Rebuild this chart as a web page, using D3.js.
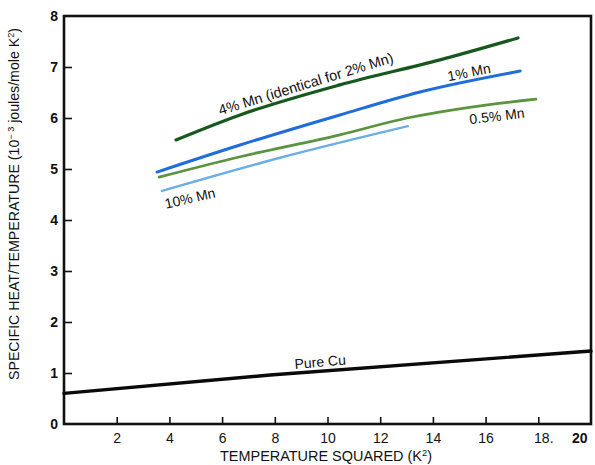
<!DOCTYPE html>
<html>
<head>
<meta charset="utf-8">
<script src="https://cdn.jsdelivr.net/npm/d3@7/dist/d3.min.js"></script>
<style>
  html, body { margin: 0; padding: 0; background: #fff; }
  svg { display: block; }
  text { font-family: "Liberation Sans", Arial, Helvetica, sans-serif; fill: #111; }
</style>
</head>
<body>
<svg id="chart" width="595" height="465"></svg>
<script>
// ---- data ----
const xTickValues = [2, 4, 6, 8, 10, 12, 14, 16, 18, 20];
const xTickLabels = ["2", "4", "6", "8", "10", "12", "14", "16", "18.", "20"];
const yTickValues = [0, 1, 2, 3, 4, 5, 6, 7, 8];
const yTickLabels = ["0", "1", "2", "3", "4", "5", "6", "7", "8"];

const seriesNames = ["4% Mn", "1% Mn", "0.5% Mn", "10% Mn", "Pure Cu"];
const mn4 = [[4.25, 5.57], [6.68, 6.06], [10.47, 6.65], [14.27, 7.14], [17.23, 7.57]];
const mn1 = [[3.53, 4.94], [6.68, 5.47], [10.47, 6.06], [13.51, 6.51], [17.31, 6.92]];
const mn05 = [[3.61, 4.84], [6.68, 5.24], [10.47, 5.67], [13.02, 6.00], [15.52, 6.22], [17.91, 6.37]];
const mn10 = [[3.72, 4.57], [8.20, 5.22], [13.05, 5.84]];
const pureCu = [[0, 0.60], [7.82, 0.96], [20, 1.43]];

const labelTexts = ["4% Mn (identical for 2% Mn)", "1% Mn", "0.5% Mn", "10% Mn", "Pure Cu"];

// ---- layout ----
const svg = d3.select("#chart");
const x = d3.scaleLinear().domain([0, 20]).range([64, 591]);
const y = d3.scaleLinear().domain([0, 8]).range([424, 16]);

const series = [
  { data: mn4,    color: "#17581f", width: 3.2 },
  { data: mn1,    color: "#1f6ddb", width: 3.0 },
  { data: mn05,   color: "#5a9440", width: 2.8 },
  { data: mn10,   color: "#6aaee6", width: 2.4 },
  { data: pureCu, color: "#0a0a0a", width: 3.4 }
];

const labels = [
  { x: 9.18,  y: 6.67, angle: -17, size: 14.5 },
  { x: 15.37, y: 6.90, angle: -11, size: 14 },
  { x: 16.43, y: 6.04, angle: -7,  size: 14 },
  { x: 4.78,  y: 4.43, angle: -13, size: 14 },
  { x: 9.72,  y: 1.22, angle: -5,  size: 14 }
];

// axes (ticks inward)
const xAxis = d3.axisBottom(x)
  .tickValues(xTickValues)
  .tickFormat((d, i) => xTickLabels[i])
  .tickSizeInner(-7).tickSizeOuter(0).tickPadding(9);
const gx = svg.append("g").attr("transform", `translate(0,${y(0)})`).call(xAxis);
gx.select(".domain").remove();
gx.selectAll(".tick line").attr("stroke", "#111").attr("stroke-width", 1.6);
gx.selectAll(".tick text").attr("font-size", 14).attr("fill", "#111")
  .attr("font-family", '"Liberation Sans", Arial, sans-serif');
gx.selectAll(".tick").filter(d => d === 20).select("line").remove();
gx.selectAll(".tick").filter(d => d === 20).select("text").attr("text-anchor", "end").attr("dx", -4)
  .attr("font-weight", "bold");
gx.selectAll(".tick").filter(d => d === 18).select("text").attr("dx", 5);

const yAxis = d3.axisLeft(y)
  .tickValues(yTickValues)
  .tickFormat((d, i) => yTickLabels[i])
  .tickSizeInner(-8).tickSizeOuter(0).tickPadding(6);
const gy = svg.append("g").attr("transform", `translate(${x(0)},0)`).call(yAxis);
gy.select(".domain").remove();
gy.selectAll(".tick line").attr("stroke", "#111").attr("stroke-width", 1.6);
gy.selectAll(".tick").filter(d => d === 0 || d === 8).select("line").remove();
gy.selectAll(".tick text").attr("font-size", 14).attr("font-weight", "bold").attr("fill", "#111")
  .attr("font-family", '"Liberation Sans", Arial, sans-serif');

// frame
svg.append("rect")
  .attr("x", x(0)).attr("y", y(8))
  .attr("width", x(20) - x(0)).attr("height", y(0) - y(8))
  .attr("fill", "none").attr("stroke", "#111").attr("stroke-width", 2.6);

// lines
const line = d3.line().x(d => x(d[0])).y(d => y(d[1])).curve(d3.curveMonotoneX);
svg.append("g").selectAll("path").data(series).join("path")
  .attr("d", d => line(d.data))
  .attr("fill", "none")
  .attr("stroke", d => d.color)
  .attr("stroke-width", d => d.width)
  .attr("stroke-linecap", "round");

// line labels
svg.append("g").selectAll("text").data(labels).join("text")
  .attr("transform", d => `translate(${x(d.x)},${y(d.y)}) rotate(${d.angle})`)
  .attr("text-anchor", "middle")
  .attr("dominant-baseline", "central")
  .attr("font-size", d => d.size)
  .text((d, i) => labelTexts[i]);

// axis titles
const xt = svg.append("text")
  .attr("x", 326).attr("y", 461)
  .attr("text-anchor", "middle")
  .attr("font-size", 14)
  .attr("textLength", 212).attr("lengthAdjust", "spacingAndGlyphs");
xt.append("tspan").text("TEMPERATURE SQUARED (K");
xt.append("tspan").attr("dy", -5).attr("font-size", 9).text("2");
xt.append("tspan").attr("dy", 5).text(")");

const yt = svg.append("text")
  .attr("transform", "translate(19,204) rotate(-90)")
  .attr("text-anchor", "middle")
  .attr("font-size", 14)
  .attr("textLength", 352).attr("lengthAdjust", "spacingAndGlyphs");
yt.append("tspan").text("SPECIFIC HEAT/TEMPERATURE (10");
yt.append("tspan").attr("dy", -5).attr("font-size", 9).text("\u2212 3");
yt.append("tspan").attr("dy", 5).text(" joules/mole K");
yt.append("tspan").attr("dy", -5).attr("font-size", 9).text("2");
yt.append("tspan").attr("dy", 5).text(")");
</script>
</body>
</html>
